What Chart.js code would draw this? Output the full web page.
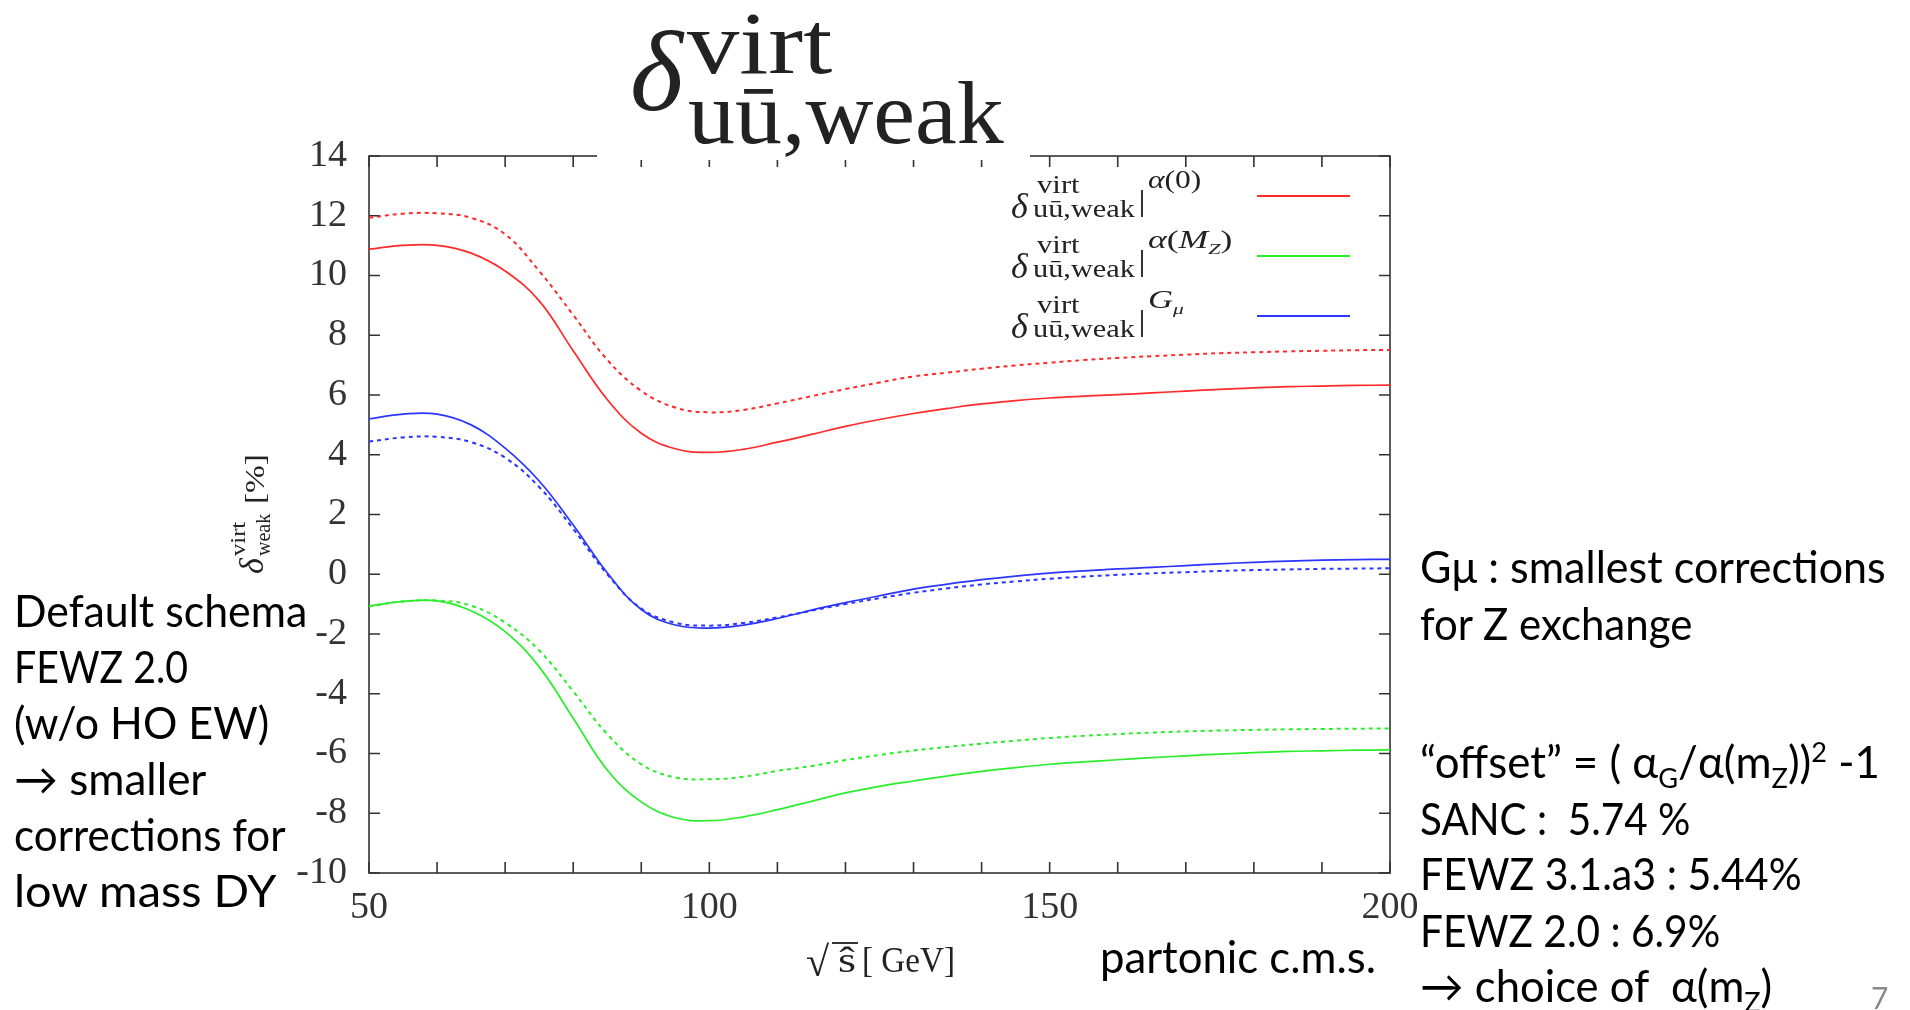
<!DOCTYPE html>
<html><head><meta charset="utf-8">
<script src="https://cdn.jsdelivr.net/npm/chart.js@4.4.1/dist/chart.umd.min.js"></script>
<style>
html,body{margin:0;padding:0;background:#fff;width:1910px;height:1010px;overflow:hidden;}
#wrap{position:relative;width:1910px;height:1010px;}
canvas{position:absolute;left:0;top:0;}
.t{position:absolute;white-space:nowrap;line-height:1;z-index:3;}
.serif{font-family:"Liberation Serif","Times New Roman",serif;color:#222;}
.sans{font-family:Lato,"Open Sans","Noto Sans",sans-serif;color:#000;}
.t sub,.t sup{font-size:0.62em;line-height:0;}
.box{position:absolute;z-index:2;}
</style></head>
<body><div id="wrap"><canvas id="c" width="1910" height="1010"></canvas></div>
<script>
// ---- data (sqrt(s-hat) in GeV, corrections in %) ----
const sqrtS = [50,55,60,65,70,75,80,85,90,95,100,105,110,115,120,125,130,135,140,145,150,155,160,165,170,175,180,185,190,195,200];
const alpha0Solid   = [10.88,11.01,11.01,10.75,10.15,9.15,7.48,5.85,4.72,4.20,4.08,4.18,4.42,4.68,4.95,5.18,5.38,5.55,5.70,5.81,5.90,5.96,6.01,6.07,6.13,6.19,6.24,6.28,6.30,6.32,6.33];
const alpha0Dashed  = [11.93,12.07,12.08,11.93,11.38,10.15,8.68,7.18,6.14,5.58,5.42,5.50,5.72,5.96,6.20,6.42,6.62,6.75,6.88,6.99,7.08,7.17,7.24,7.30,7.35,7.40,7.43,7.46,7.48,7.50,7.51];
const alphaMZSolid  = [-1.06,-0.91,-0.89,-1.22,-1.92,-3.10,-4.82,-6.55,-7.62,-8.15,-8.25,-8.12,-7.88,-7.60,-7.32,-7.10,-6.92,-6.75,-6.60,-6.47,-6.36,-6.28,-6.21,-6.14,-6.08,-6.02,-5.97,-5.93,-5.91,-5.89,-5.88];
const alphaMZDashed = [-1.08,-0.91,-0.88,-1.05,-1.62,-2.55,-3.92,-5.35,-6.36,-6.80,-6.86,-6.78,-6.58,-6.42,-6.22,-6.05,-5.90,-5.78,-5.67,-5.57,-5.48,-5.41,-5.35,-5.30,-5.26,-5.23,-5.21,-5.19,-5.18,-5.17,-5.16];
const gmuSolid      = [5.20,5.36,5.36,5.00,4.22,3.12,1.65,0.05,-1.18,-1.70,-1.80,-1.70,-1.48,-1.20,-0.95,-0.72,-0.50,-0.33,-0.18,-0.06,0.04,0.11,0.18,0.23,0.29,0.35,0.40,0.44,0.47,0.49,0.50];
const gmuDashed     = [4.44,4.58,4.60,4.42,3.90,2.92,1.52,0.00,-1.15,-1.62,-1.72,-1.63,-1.44,-1.22,-1.00,-0.80,-0.62,-0.47,-0.34,-0.24,-0.15,-0.08,-0.02,0.03,0.07,0.11,0.14,0.16,0.18,0.19,0.20];
const xMajorTicks = [50,100,150,200];
const xRange = [50,200];
const yRange = [-10,14];
const yStep = 2;
const xMinorStep = 10;

const RED='#ff2a2a', GREEN='#2aee2a', BLUE='#2a35ff';
const pts = arr => arr.map((v,i)=>({x:sqrtS[i], y:v}));
function ds(label, arr, color, dashed){
  return {label, data:pts(arr), borderColor:color, borderWidth:dashed?2:1.7,
    borderDash:dashed?[4,4]:[], pointRadius:0, fill:false, tension:0.4};
}
const AREA={left:369,right:1390,top:156,bottom:873};
const frameTicks={
  id:'frameTicks',
  beforeDatasetsDraw(chart){
    const {ctx, chartArea:a, scales:{x,y}}=chart;
    ctx.save(); ctx.strokeStyle='#333'; ctx.lineWidth=1.6;
    ctx.strokeRect(a.left,a.top,a.right-a.left,a.bottom-a.top);
    const L=11;
    ctx.beginPath();
    x.ticks.forEach(t=>{const p=x.getPixelForValue(t.value);
      ctx.moveTo(p,a.bottom);ctx.lineTo(p,a.bottom-L);ctx.moveTo(p,a.top);ctx.lineTo(p,a.top+L);});
    y.ticks.forEach(t=>{const p=y.getPixelForValue(t.value);
      ctx.moveTo(a.left,p);ctx.lineTo(a.left+L,p);ctx.moveTo(a.right,p);ctx.lineTo(a.right-L,p);});
    ctx.stroke(); ctx.restore();
  }
};
new Chart(document.getElementById('c'),{
  type:'line',
  data:{datasets:[
    ds('δ virt uū,weak | α(0) (solid)',alpha0Solid,RED,false),
    ds('δ virt uū,weak | α(0) (dashed)',alpha0Dashed,RED,true),
    ds('δ virt uū,weak | α(MZ) (solid)',alphaMZSolid,GREEN,false),
    ds('δ virt uū,weak | α(MZ) (dashed)',alphaMZDashed,GREEN,true),
    ds('δ virt uū,weak | Gμ (solid)',gmuSolid,BLUE,false),
    ds('δ virt uū,weak | Gμ (dashed)',gmuDashed,BLUE,true)
  ]},
  options:{
    responsive:false, animation:false, devicePixelRatio:1, events:[],
    layout:{padding:{top:AREA.top,right:1910-AREA.right,left:0,bottom:0}},
    plugins:{legend:{display:false},tooltip:{enabled:false},title:{display:false}},
    scales:{
      x:{type:'linear',min:xRange[0],max:xRange[1],
        grid:{display:false,drawTicks:false},border:{display:false},
        ticks:{stepSize:xMinorStep,autoSkip:false,maxRotation:0,padding:12,color:'#333',
          font:{family:'"Liberation Serif", serif',size:38},
          callback:v=>xMajorTicks.includes(v)?String(v):''},
        afterFit:s=>{s.height=1010-AREA.bottom;}},
      y:{type:'linear',min:yRange[0],max:yRange[1],
        grid:{display:false,drawTicks:false},border:{display:false},
        ticks:{stepSize:yStep,padding:22,color:'#333',
          font:{family:'"Liberation Serif", serif',size:38}},
        afterFit:s=>{s.width=AREA.left;}}
    }
  },
  plugins:[frameTicks]
});

// ---- overlay text (real HTML text) ----
const wrap=document.getElementById('wrap');
function addBox(parent,x,y,w,h,bg,z){const d=document.createElement('div');d.className='box';
  Object.assign(d.style,{left:x+'px',top:y+'px',width:w+'px',height:h+'px',background:bg});
  if(z) d.style.zIndex=z; parent.appendChild(d);return d;}
function place(parent,cls,html,x,base,size,w,extra){
  const el=document.createElement('div'); el.className='t '+cls; el.innerHTML=html;
  el.style.fontSize=size+'px'; el.style.left=x+'px'; el.style.top='0px';
  if(extra) Object.assign(el.style,extra);
  parent.appendChild(el);
  const m=document.createElement('span'); m.style.cssText='display:inline-block;width:0;height:0;vertical-align:baseline';
  el.appendChild(m);
  const b=m.offsetTop;
  el.style.top=(base-b)+'px';
  if(w){const cw=el.offsetWidth; el.style.transformOrigin='0 0'; el.style.transform='scaleX('+(w/cw)+')';}
  return el;
}
// title
addBox(wrap,597,0,433,160,'#fff');
place(wrap,'serif','<i>δ</i>',630,110,114);
place(wrap,'serif','virt',687,73,88,145);
place(wrap,'serif','uū,weak',688,143,88,316);
// legend
const legendSup=['<i>α</i>(0)','<i>α</i>(<i>M<sub>Z</sub></i>)','<i>G<sub>μ</sub></i>'];
const legendSupW=[53,84,36];
const legendCol=[RED,GREEN,BLUE];
legendSup.forEach((s,i)=>{
  const dy=i*60;
  place(wrap,'serif','<i>δ</i>',1011,218+dy,36);
  place(wrap,'serif','virt',1037,193+dy,25,43);
  place(wrap,'serif','uū,weak',1033,217+dy,25,102);
  addBox(wrap,1141,190+dy,1.6,27,'#333',3);
  place(wrap,'serif',s,1148,188+dy,25,legendSupW[i]);
  addBox(wrap,1257,195+dy,93,2,legendCol[i],3);
});
// y axis label (rotated)
const yl=document.createElement('div');
Object.assign(yl.style,{position:'absolute',left:(252-62)+'px',top:(512-22)+'px',width:'124px',height:'44px',
  transform:'rotate(-90deg)',transformOrigin:'50% 50%',zIndex:3});
wrap.appendChild(yl);
place(yl,'serif','<i>δ</i>',0,33,34);
place(yl,'serif','virt',18,15,21,34);
place(yl,'serif','weak',18,40,21,42);
place(yl,'serif','[%]',70,34,28,50);
// x axis label
place(wrap,'serif','√',806,976,42);
addBox(wrap,832,942,26,1.8,'#333',3);
place(wrap,'serif','ŝ',838,972,36,18);
place(wrap,'serif','[ GeV]',862,972,36,93);
// slide text
const leftLines=['Default schema','FEWZ 2.0','(w/o HO EW)','→ smaller','corrections for','low mass DY'];
const leftW=[293,174,255,192,272,263];
leftLines.forEach((s,i)=>place(wrap,'sans',s,14,627+56*i,44,leftW[i]));
const rightLines=[
  ['Gμ : smallest corrections',583,466],
  ['for Z exchange',640,272],
  ['“offset” = ( α<sub>G</sub>/α(m<sub>Z</sub>))<sup>2</sup> -1',778,460],
  ['SANC :&nbsp; 5.74 %',835,270],
  ['FEWZ 3.1.a3 : 5.44%',890,382],
  ['FEWZ 2.0 : 6.9%',947,300],
  ['→ choice of&nbsp; α(m<sub>Z</sub>)',1002,352]
];
rightLines.forEach(r=>place(wrap,'sans',r[0],1420,r[1],44,r[2]));
place(wrap,'sans','partonic c.m.s.',1100,973,44,276);
place(wrap,'sans','7',1871,1009,30,17,{color:'#888'});
</script>
</body></html>
